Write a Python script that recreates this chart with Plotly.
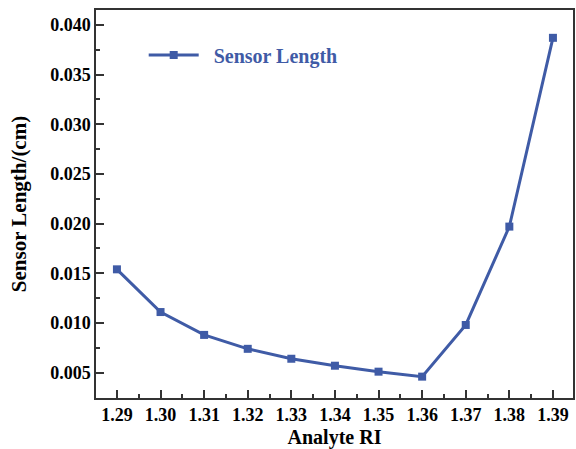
import plotly.graph_objects as go

ri = [1.29, 1.30, 1.31, 1.32, 1.33, 1.34, 1.35, 1.36, 1.37, 1.38, 1.39]
sensor_length = [0.0154, 0.0111, 0.0088, 0.0074, 0.0064, 0.0057, 0.0051, 0.0046, 0.0098, 0.0197, 0.0387]
x_ticks = [1.29, 1.30, 1.31, 1.32, 1.33, 1.34, 1.35, 1.36, 1.37, 1.38, 1.39]
y_ticks = [0.005, 0.010, 0.015, 0.020, 0.025, 0.030, 0.035, 0.040]

color = "#3F5BA6"
font_family = "Liberation Serif, Times New Roman, serif"

fig = go.Figure()
fig.add_trace(go.Scatter(
    x=ri, y=sensor_length, mode="lines+markers", name="&nbsp;&nbsp;Sensor Length",
    line=dict(color=color, width=3),
    marker=dict(symbol="square", size=8, color=color),
))

fig.update_layout(
    width=576, height=449,
    margin=dict(l=96, r=1, t=10, b=51),
    paper_bgcolor="white", plot_bgcolor="white",
    font=dict(family=font_family, size=18, color="black"),
    showlegend=True,
    legend=dict(x=0.1, y=0.884, xanchor="left", yanchor="middle",
                bgcolor="rgba(0,0,0,0)", itemwidth=50,
                font=dict(family=font_family, size=20, color=color, weight="bold")),
    xaxis=dict(
        range=[1.2852, 1.3946], tickvals=x_ticks,
        ticktext=[f"{v:.2f}" for v in x_ticks],
        ticks="inside", ticklen=8, tickwidth=1.5, tickcolor="#333",
        minor=dict(ticks="inside", ticklen=4, tickwidth=1.5, tickcolor="#333", dtick=0.005),
        showline=True, linecolor="#333", linewidth=1.5, mirror=True,
        showgrid=False, zeroline=False,
        tickfont=dict(family=font_family, size=18, weight="bold"),
        title=dict(text="Analyte RI", font=dict(family=font_family, size=20, weight="bold"), standoff=6),
    ),
    yaxis=dict(
        range=[0.00245, 0.0415], tickvals=y_ticks,
        ticktext=[f"{v:.3f}" for v in y_ticks],
        ticks="inside", ticklen=8, tickwidth=1.5, tickcolor="#333",
        minor=dict(ticks="inside", ticklen=4, tickwidth=1.5, tickcolor="#333", dtick=0.0025, tick0=0),
        showline=True, linecolor="#333", linewidth=1.5, mirror=True,
        showgrid=False, zeroline=False,
        tickfont=dict(family=font_family, size=18, weight="bold"),
        title=dict(text="Sensor Length/(cm)", font=dict(family=font_family, size=21, weight="bold"), standoff=18),
    ),
)

fig.write_html("out.html")
